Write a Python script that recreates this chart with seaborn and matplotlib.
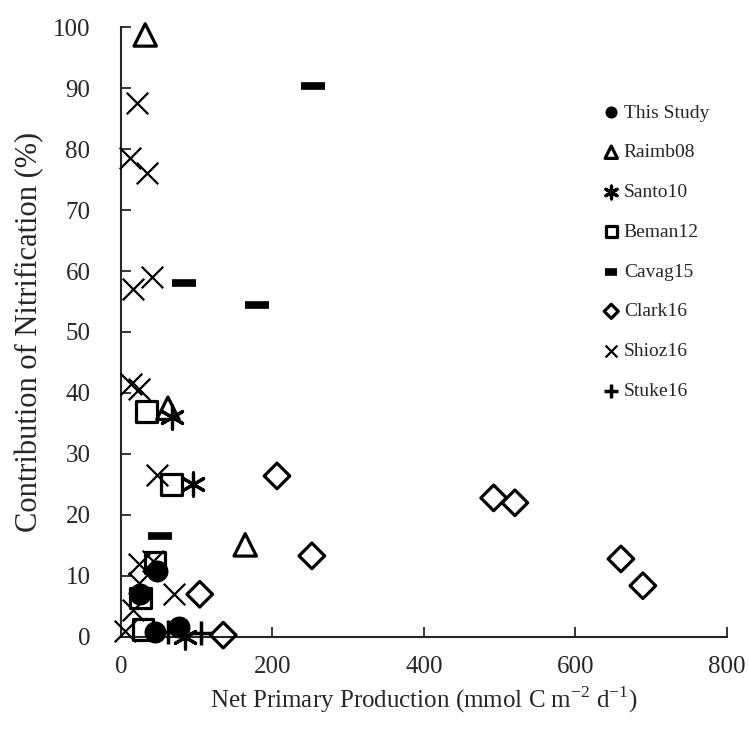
import matplotlib
matplotlib.use("Agg")
import matplotlib.pyplot as plt
import seaborn as sns

# data
this_x = [25, 47, 45, 76]
this_y = [7, 10.8, 0.8, 1.7]
raimb_x = [32, 62, 164]
raimb_y = [98.7, 37.5, 15.1]
santo_x = [68, 95, 84]
santo_y = [36, 25, 0]
beman_x = [34, 67, 45, 26, 29]
beman_y = [37, 25, 12.2, 6.4, 1.2]
cavag_x = [253, 83, 180, 52]
cavag_y = [90.3, 58, 54.4, 16.6]
clark_x = [206, 252, 492, 520, 660, 689, 104, 135]
clark_y = [26.4, 13.3, 22.8, 22, 12.8, 8.4, 7, 0.3]
shioz_x = [21, 12, 34, 16, 41, 13, 24, 48, 24, 42, 24, 70, 16, 5]
shioz_y = [87.5, 78.5, 76, 57, 59, 41.5, 40.7, 26.6, 12, 12.5, 8.8, 7, 4.4, 1]
stuke_x = [62, 106]
stuke_y = [0.8, 0.6]

sns.set_style("ticks")
plt.rcParams['font.family'] = ['Liberation Serif', 'DejaVu Serif']
plt.rcParams['mathtext.fontset'] = 'custom'
plt.rcParams['mathtext.rm'] = 'Liberation Serif'

fig = plt.figure(figsize=(7.49, 7.32), dpi=100)
ax = fig.add_axes([0.1615, 0.1298, 0.8091, 0.8333])

k = dict(ax=ax, clip_on=False, zorder=3)
sns.scatterplot(x=this_x, y=this_y, marker='o', s=250, color='black',
                edgecolor='black', linewidth=0, label='This Study', **k)
sns.scatterplot(x=raimb_x, y=raimb_y, marker='^', s=260, facecolor='none',
                edgecolor='black', linewidth=2.3, label='Raimb08', **k)
sns.scatterplot(x=santo_x, y=santo_y, marker=(6, 2, 0), s=280, color='black',
                linewidth=2.3, label='Santo10', **k)
sns.scatterplot(x=beman_x, y=beman_y, marker='s', s=220, facecolor='none',
                edgecolor='black', linewidth=2.3, label='Beman12', **k)
sns.scatterplot(x=cavag_x, y=cavag_y, marker='_', s=280, color='black',
                linewidth=5.5, label='Cavag15', **k)
sns.scatterplot(x=clark_x, y=clark_y, marker='D', s=170, facecolor='none',
                edgecolor='black', linewidth=2.3, label='Clark16', **k)
sns.scatterplot(x=shioz_x, y=shioz_y, marker='x', s=240, color='black',
                linewidth=1.6, label='Shioz16', **k)
sns.scatterplot(x=stuke_x, y=stuke_y, marker='+', s=300, color='black',
                linewidth=2.5, label='Stuke16', **k)

ax.set_xlim(0, 800)
ax.set_ylim(0, 100)
ax.set_xticks([0, 200, 400, 600, 800])
ax.set_yticks(range(0, 101, 10))
ax.tick_params(direction='in', length=7, width=1.3, labelsize=18)
ax.tick_params(axis='y', pad=22)
ax.tick_params(axis='x', pad=14)
for side in ['left', 'bottom']:
    ax.spines[side].set_linewidth(1.5)
sns.despine(ax=ax)

ax.set_xlabel('Net Primary Production (mmol C m$^{\\mathrm{-2}}$ d$^{\\mathrm{-1}}$)',
              fontsize=18, labelpad=4)
ax.set_ylabel('Contribution of Nitrification (%)', fontsize=22, labelpad=6)

leg = ax.legend(loc='upper right', bbox_to_anchor=(0.99, 0.893), frameon=False,
                fontsize=14, markerscale=0.55, handletextpad=0.15,
                handlelength=1.0, labelspacing=1.14, borderaxespad=0.2)

fig.savefig('out.png', dpi=100)
